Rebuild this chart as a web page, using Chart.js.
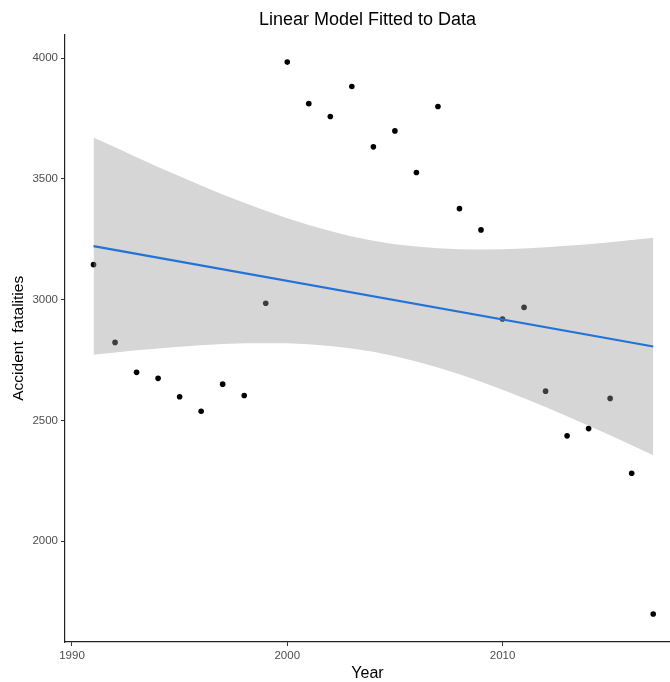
<!DOCTYPE html>
<html>
<head>
<meta charset="utf-8">
<script src="https://cdn.jsdelivr.net/npm/chart.js@4"></script>
<style>
  body { margin: 0; background: #fff; }
  #wrap { width: 670px; height: 682px; }
</style>
</head>
<body>
<div id="wrap"><canvas id="chartModelo" width="670" height="682"></canvas></div>
<script>
// Datos
const years = [1991, 1992, 1993, 1994, 1995, 1996, 1997, 1998, 1999, 2000, 2001, 2002, 2003, 2004,
               2005, 2006, 2007, 2008, 2009, 2010, 2011, 2012, 2013, 2014, 2015, 2016, 2017];
const fatalities = [3145, 2823, 2699, 2674, 2598, 2538, 2650, 2603, 2985, 3984, 3812, 3759, 3883, 3633,
                    3699, 3527, 3800, 3377, 3289, 2920, 2968, 2621, 2436, 2466, 2591, 2281, 1698];

// Recta ajustada (extremos)
const fitYears = [1991, 2017];
const fitValues = [3222, 2806];

// Banda de confianza
const bandUpper = [3672, 3631, 3590, 3550, 3511, 3473, 3436, 3401, 3368, 3337, 3309, 3284, 3262, 3244,
                   3230, 3220, 3213, 3209, 3208, 3209, 3212, 3217, 3223, 3230, 3238, 3247, 3256];
const bandLower = [2772, 2781, 2790, 2798, 2805, 2811, 2816, 2819, 2820, 2819, 2815, 2808, 2798, 2784,
                   2766, 2744, 2719, 2691, 2660, 2627, 2592, 2555, 2517, 2478, 2438, 2397, 2356];

const xTicks = [1990, 2000, 2010];
const yTicks = [2000, 2500, 3000, 3500, 4000];

Chart.defaults.font.family = "'Liberation Sans', Arial, sans-serif";

function puntos(xs, ys) {
    return xs.map((x, i) => ({ x: x, y: ys[i] }));
}

const ctx = document.getElementById('chartModelo').getContext('2d');
const chart = new Chart(ctx, {
    type: 'scatter',
    data: {
        datasets: [
            {
                label: 'Datos',
                data: puntos(years, fatalities),
                backgroundColor: '#000',
                borderColor: '#000',
                pointRadius: 2.8,
                borderWidth: 0,
                order: 3
            },
            {
                label: 'Superior',
                data: puntos(years, bandUpper),
                showLine: true,
                borderWidth: 0,
                borderColor: 'rgba(0,0,0,0)',
                pointRadius: 0,
                backgroundColor: 'rgba(153,153,153,0.4)',
                fill: '+1',
                order: 2
            },
            {
                label: 'Inferior',
                data: puntos(years, bandLower),
                showLine: true,
                borderWidth: 0,
                borderColor: 'rgba(0,0,0,0)',
                pointRadius: 0,
                fill: false,
                order: 2
            },
            {
                label: 'Ajuste',
                data: puntos(fitYears, fitValues),
                showLine: true,
                borderColor: '#2272d9',
                borderWidth: 2.2,
                pointRadius: 0,
                fill: false,
                order: 1
            }
        ]
    },
    options: {
        responsive: false,
        animation: false,
        layout: { padding: 0, autoPadding: false },
        plugins: {
            legend: { display: false },
            tooltip: { enabled: false },
            title: {
                display: true,
                text: 'Linear Model Fitted to Data',
                fullSize: false,
                color: '#000',
                font: { size: 18, weight: 'normal' },
                padding: { top: 9, bottom: 4 }
            }
        },
        scales: {
            x: {
                type: 'linear',
                min: 1989.675,
                max: 2017.78,
                afterFit: scale => { scale.height = 40; },
                afterBuildTicks: scale => { scale.ticks = xTicks.map(v => ({ value: v })); },
                ticks: {
                    color: '#4d4d4d',
                    font: { size: 11.5 },
                    padding: 3,
                    callback: v => String(v)
                },
                grid: {
                    display: true,
                    drawOnChartArea: false,
                    drawTicks: true,
                    tickLength: 4,
                    color: '#333'
                },
                border: { display: true, color: '#222', width: 1.2 },
                title: {
                    display: true,
                    text: 'Year',
                    color: '#000',
                    font: { size: 16, lineHeight: 1 },
                    padding: { top: 0, bottom: 0 }
                }
            },
            y: {
                type: 'linear',
                min: 1582,
                max: 4098,
                afterFit: scale => { scale.width = 65; },
                afterBuildTicks: scale => { scale.ticks = yTicks.map(v => ({ value: v })); },
                ticks: {
                    color: '#4d4d4d',
                    font: { size: 11.5 },
                    padding: 3,
                    callback: v => String(v)
                },
                grid: {
                    display: true,
                    drawOnChartArea: false,
                    drawTicks: true,
                    tickLength: 4,
                    color: '#333'
                },
                border: { display: true, color: '#222', width: 1.2 },
                title: {
                    display: true,
                    text: 'Accident  fatalities',
                    color: '#000',
                    font: { size: 15.5, lineHeight: 1 },
                    padding: { top: 11, bottom: 0 }
                }
            }
        }
    }
});
</script>
</body>
</html>
